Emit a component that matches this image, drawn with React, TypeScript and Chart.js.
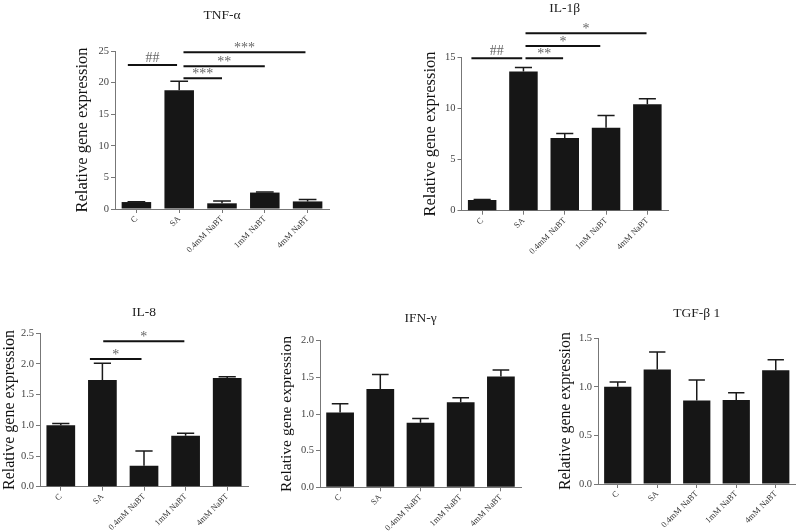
import React, { useEffect, useRef } from "react";
import { Chart, registerables } from "chart.js";

Chart.register(...registerables);

const categories = ["C", "SA", "0.4mM NaBT", "1mM NaBT", "4mM NaBT"];

const tnfMeans = [1.1, 18.8, 0.9, 2.6, 1.2];
const tnfErrs = [0.05, 1.4, 0.35, 0.1, 0.3];
const tnfAxis = [0, 25, 5];
const tnfBrackets: [string, number, number, number][] = [
  ["##", -0.2, 0.95, 22.8],
  ["***", 1.1, 2.0, 20.7],
  ["**", 1.1, 3.0, 22.6],
  ["***", 1.1, 3.95, 24.8],
];

const il1bMeans = [1.05, 13.6, 7.1, 8.1, 10.4];
const il1bErrs = [0.05, 0.4, 0.45, 1.2, 0.55];
const il1bAxis = [0, 15, 5];
const il1bBrackets: [string, number, number, number][] = [
  ["##", -0.26, 0.97, 14.9],
  ["**", 1.05, 1.96, 14.9],
  ["*", 1.05, 2.86, 16.1],
  ["*", 1.05, 3.98, 17.36],
];

const il8Means = [1.0, 1.74, 0.34, 0.83, 1.77];
const il8Errs = [0.03, 0.27, 0.24, 0.04, 0.02];
const il8Axis = [0, 2.5, 0.5];
const il8Brackets: [string, number, number, number][] = [
  ["*", 0.7, 1.94, 2.08],
  ["*", 1.02, 2.97, 2.37],
];

const ifnMeans = [1.02, 1.34, 0.88, 1.16, 1.51];
const ifnErrs = [0.12, 0.2, 0.06, 0.06, 0.09];
const ifnAxis = [0, 2.0, 0.5];

const tgfMeans = [1.0, 1.18, 0.86, 0.865, 1.17];
const tgfErrs = [0.05, 0.18, 0.21, 0.075, 0.11];
const tgfAxis = [0, 1.5, 0.5];

const yTitle = "Relative gene expression";
const SERIF = "'Liberation Serif', 'Times New Roman', serif";

type Box = { left: number; top: number; width: number; height: number };
type Area = { left: number; top: number; right: number; bottom: number };

type PanelDef = {
  title: string;
  means: number[];
  errs: number[];
  axis: number[];
  decimals: number;
  brackets: [string, number, number, number][];
  box: Box;
  area: Area;
  titleY: number;
  labelSize: number;
};

const panels: PanelDef[] = [
  {
    title: "TNF-α",
    means: tnfMeans,
    errs: tnfErrs,
    axis: tnfAxis,
    decimals: 0,
    brackets: tnfBrackets,
    box: { left: 73, top: 0, width: 266, height: 265 },
    area: { left: 115, top: 51, right: 329, bottom: 209 },
    titleY: 15,
    labelSize: 16.5,
  },
  {
    title: "IL-1β",
    means: il1bMeans,
    errs: il1bErrs,
    axis: il1bAxis,
    decimals: 0,
    brackets: il1bBrackets,
    box: { left: 421, top: 0, width: 257, height: 265 },
    area: { left: 461.5, top: 57.3, right: 668, bottom: 210.7 },
    titleY: 8,
    labelSize: 16.5,
  },
  {
    title: "IL-8",
    means: il8Means,
    errs: il8Errs,
    axis: il8Axis,
    decimals: 1,
    brackets: il8Brackets,
    box: { left: 0, top: 290, width: 258, height: 242 },
    area: { left: 40, top: 333.3, right: 248, bottom: 486.7 },
    titleY: 312,
    labelSize: 16,
  },
  {
    title: "IFN-γ",
    means: ifnMeans,
    errs: ifnErrs,
    axis: ifnAxis,
    decimals: 1,
    brackets: [],
    box: { left: 278, top: 290, width: 253, height: 242 },
    area: { left: 320, top: 340.7, right: 521, bottom: 487.3 },
    titleY: 318,
    labelSize: 15.6,
  },
  {
    title: "TGF-β 1",
    means: tgfMeans,
    errs: tgfErrs,
    axis: tgfAxis,
    decimals: 1,
    brackets: [],
    box: { left: 556, top: 290, width: 240, height: 242 },
    area: { left: 598, top: 338.3, right: 795.5, bottom: 484 },
    titleY: 313,
    labelSize: 15.8,
  },
];

function PanelChart({ p }: { p: PanelDef }) {
  const ref = useRef<HTMLCanvasElement | null>(null);
  useEffect(() => {
    if (!ref.current) return;
    const extras = {
      id: "extras",
      afterDatasetsDraw(chart: any) {
        const ctx = chart.ctx;
        const meta = chart.getDatasetMeta(0);
        const ys = chart.scales.y;
        ctx.save();
        ctx.strokeStyle = "#1a1a1a";
        ctx.lineWidth = 1.5;
        meta.data.forEach((bar: any, i: number) => {
          const top = ys.getPixelForValue(p.means[i]);
          const hi = ys.getPixelForValue(p.means[i] + p.errs[i]);
          const half = bar.width * 0.3;
          ctx.beginPath();
          ctx.moveTo(bar.x, top);
          ctx.lineTo(bar.x, hi);
          ctx.moveTo(bar.x - half, hi);
          ctx.lineTo(bar.x + half, hi);
          ctx.stroke();
        });
        ctx.restore();
      },
      afterDraw(chart: any) {
        const ctx = chart.ctx;
        const xs = chart.scales.x;
        const ys = chart.scales.y;
        const ca = chart.chartArea;
        ctx.save();
        // title
        ctx.fillStyle = "#222";
        ctx.font = `13.5px ${SERIF}`;
        ctx.textAlign = "center";
        ctx.textBaseline = "middle";
        ctx.fillText(p.title, (ca.left + ca.right) / 2, p.titleY - p.box.top);
        // significance brackets
        p.brackets.forEach(([label, from, to, yv]) => {
          const x1 = xs.getPixelForValue(from);
          const x2 = xs.getPixelForValue(to);
          const y = ys.getPixelForValue(yv);
          ctx.strokeStyle = "#111";
          ctx.lineWidth = 2;
          ctx.beginPath();
          ctx.moveTo(x1, y);
          ctx.lineTo(x2, y);
          ctx.stroke();
          ctx.fillStyle = "#666";
          ctx.font = `14px ${SERIF}`;
          ctx.textAlign = "center";
          ctx.textBaseline = "alphabetic";
          const off = label.includes("#") ? -3 : -0.5;
          ctx.fillText(label, (x1 + x2) / 2, y + off);
        });
        ctx.restore();
      },
    };
    const chart = new Chart(ref.current, {
      type: "bar",
      data: {
        labels: categories,
        datasets: [
          {
            data: p.means,
            backgroundColor: "#161616",
            borderWidth: 0,
            barPercentage: 0.69,
            categoryPercentage: 1,
          },
        ],
      },
      options: {
        responsive: false,
        animation: false,
        devicePixelRatio: 1,
        layout: {
          padding: {
            left: 0,
            bottom: 0,
            top: p.area.top - p.box.top,
            right: p.box.left + p.box.width - p.area.right,
          },
        },
        plugins: {
          legend: { display: false },
          tooltip: { enabled: false },
          title: { display: false },
        },
        scales: {
          x: {
            offset: true,
            grid: {
              display: true,
              offset: false,
              drawOnChartArea: false,
              drawTicks: true,
              tickLength: 4,
              color: "#777",
            },
            border: { color: "#777", width: 1 },
            ticks: {
              autoSkip: false,
              minRotation: 45,
              maxRotation: 45,
              padding: 1,
              color: "#333",
              font: { family: SERIF, size: 8.5 },
            },
            afterFit: (s: any) => {
              s.height = p.box.top + p.box.height - p.area.bottom;
            },
          },
          y: {
            min: p.axis[0],
            max: p.axis[1],
            grid: {
              display: true,
              drawOnChartArea: false,
              drawTicks: true,
              tickLength: 4,
              color: "#777",
            },
            border: { color: "#777", width: 1 },
            ticks: {
              stepSize: p.axis[2],
              padding: 2,
              color: "#444",
              font: { family: SERIF, size: 10.5 },
              callback: (v: any) => Number(v).toFixed(p.decimals),
            },
            title: {
              display: true,
              text: yTitle,
              color: "#111",
              padding: 0,
              font: { family: SERIF, size: p.labelSize },
            },
            afterFit: (s: any) => {
              s.width = p.area.left - p.box.left;
            },
          },
        },
      },
      plugins: [extras],
    } as any);
    return () => chart.destroy();
  }, [p]);
  return (
    <canvas
      ref={ref}
      width={p.box.width}
      height={p.box.height}
      style={{
        position: "absolute",
        left: p.box.left,
        top: p.box.top,
        width: p.box.width,
        height: p.box.height,
      }}
    />
  );
}

export default function App() {
  useEffect(() => {
    document.body.style.margin = "0";
    document.body.style.background = "#fff";
  }, []);
  return (
    <div
      style={{
        position: "absolute",
        left: 0,
        top: 0,
        width: 796,
        height: 532,
        background: "#fff",
        overflow: "hidden",
      }}
    >
      {panels.map((p) => (
        <PanelChart key={p.title} p={p} />
      ))}
    </div>
  );
}
